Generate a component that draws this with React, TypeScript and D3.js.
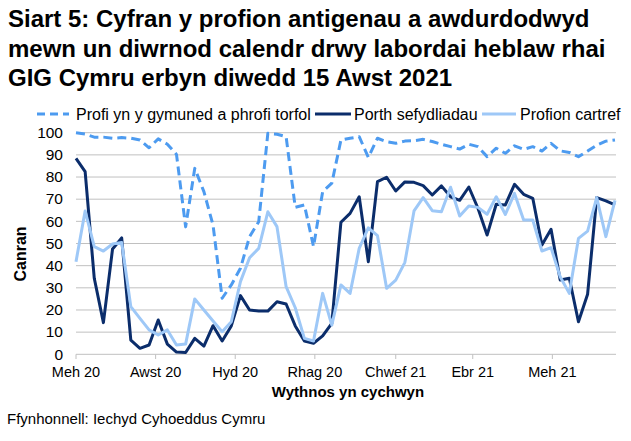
import React from "react";
import * as d3 from "d3";

const weekStart = new Date(2020, 5, 1);
const weeks = 60;

const communityTesting = [100, 99.4, 98, 98, 97.5, 97.8, 97.5, 96.7, 93.2, 97.2, 94.8, 90.2, 57.5, 83.9, 73.4, 58.3, 25.3, 31.3, 38.8, 53.1, 59.8, 99.7, 99.3, 98.2, 66.3, 67.4, 48.6, 73.4, 77.2, 96.7, 97.5, 98.2, 88.9, 97.5, 95.9, 95.2, 96.2, 96.4, 97, 96, 94.8, 93.7, 92.6, 94.8, 93.7, 89.2, 93, 90.7, 94.1, 92.5, 93.7, 91.7, 95.2, 91.8, 91.1, 89.2, 91.7, 94.4, 96.2, 96.7];
const institutionPortal = [88.4, 82.4, 34.3, 14.3, 47.5, 52.5, 6.4, 2.7, 4.2, 15.5, 4.6, 1, 0.8, 7.2, 3.7, 12.9, 6, 12.8, 26.5, 20, 19.5, 19.5, 23.7, 22.7, 12.8, 6, 5, 8.3, 14, 59.6, 63.6, 71.1, 41.8, 77.9, 79.9, 73.7, 77.8, 77.6, 76.1, 71.9, 76, 71.1, 69.5, 75.5, 65.9, 53.8, 67.7, 67.4, 76.7, 72.2, 70.4, 49.3, 56.4, 33.5, 34.3, 14.7, 27.1, 70.7, 69.2, 67.4];
const homeTests = [41.8, 64.7, 48.6, 46.6, 49.8, 50.5, 21.5, 16.2, 11, 8.7, 11, 4.2, 4.6, 25, 20, 15, 10.2, 14.7, 32.8, 43.6, 47.8, 64.3, 57.6, 30.5, 21, 7.2, 6, 27.5, 13.2, 31.3, 27.5, 47.8, 57.1, 53.5, 29.8, 33.5, 41.5, 64.7, 70.7, 64.8, 64.3, 75.4, 62.4, 66.9, 66.3, 63.2, 71.1, 63.1, 72.6, 60.6, 60.6, 46.6, 48.1, 35, 27.5, 52.3, 55.6, 70.7, 53.1, 69.5];

const yTicks = [0, 10, 20, 30, 40, 50, 60, 70, 80, 90, 100];
const xTickDates = [
  new Date(2020, 5, 1),
  new Date(2020, 7, 1),
  new Date(2020, 9, 1),
  new Date(2020, 11, 1),
  new Date(2021, 1, 1),
  new Date(2021, 3, 1),
  new Date(2021, 5, 1),
];
const xTickLabels = ["Meh 20", "Awst 20", "Hyd 20", "Rhag 20", "Chwef 21", "Ebr 21", "Meh 21"];

const titleLines = [
  "Siart 5: Cyfran y profion antigenau a awdurdodwyd",
  "mewn un diwrnod calendr drwy labordai heblaw rhai",
  "GIG Cymru erbyn diwedd 15 Awst 2021",
];
const legendLabels = ["Profi yn y gymuned a phrofi torfol", "Porth sefydliadau", "Profion cartref"];

const COL_DASH = "#4d9bf0";
const COL_DARK = "#0b2d6b";
const COL_LIGHT = "#9ec8f7";

export default function App() {
  const W = 631;
  const H = 441;
  const dates = d3.range(weeks).map((i) => d3.timeWeek.offset(weekStart, i));
  const x = d3.scaleTime().domain([dates[0], dates[weeks - 1]]).range([76, 615]);
  const y = d3.scaleLinear().domain([0, 100]).range([354.3, 132.7]);
  const line = d3
    .line<number>()
    .x((_, i) => x(dates[i]))
    .y((d) => y(d))
    .curve(d3.curveLinear);

  const font = "'Liberation Sans', Arial, sans-serif";
  const series = [
    { data: communityTesting, color: COL_DASH, dash: "9,5" },
    { data: institutionPortal, color: COL_DARK, dash: undefined },
    { data: homeTests, color: COL_LIGHT, dash: undefined },
  ];

  const legendY = 114;
  const legendItems = [
    { x0: 37, x1: 69, tx: 76, color: COL_DASH, dash: "8,5", label: legendLabels[0] },
    { x0: 315, x1: 351, tx: 354, color: COL_DARK, dash: undefined, label: legendLabels[1] },
    { x0: 482, x1: 516, tx: 520, color: COL_LIGHT, dash: undefined, label: legendLabels[2] },
  ];
  const titleBaselines = [27, 56.5, 86];

  return (
    <svg width={W} height={H} style={{ position: "absolute", left: 0, top: 0, background: "#fff" }} fontFamily={font}>
      <rect width={W} height={H} fill="#fff" />
      {titleLines.map((t, i) => (
        <text key={i} x={8} y={titleBaselines[i]} fontSize={24} fontWeight="bold" fill="#000">
          {t}
        </text>
      ))}
      {legendItems.map((l, i) => (
        <g key={i}>
          <line x1={l.x0} x2={l.x1} y1={legendY} y2={legendY} stroke={l.color} strokeWidth={3} strokeDasharray={l.dash} />
          <text x={l.tx} y={legendY + 5.7} fontSize={16} fill="#000">
            {l.label}
          </text>
        </g>
      ))}
      {yTicks.map((t) => (
        <g key={t}>
          <line x1={76} x2={616} y1={y(t)} y2={y(t)} stroke="#c0c0c0" strokeWidth={1} />
          <text x={63} y={y(t) + 5.3} textAnchor="end" fontSize={15.5} fill="#000">
            {t}
          </text>
        </g>
      ))}
      {xTickDates.map((d, i) => (
        <g key={i}>
          <line x1={x(d)} x2={x(d)} y1={354.3} y2={359} stroke="#c0c0c0" />
          <text x={x(d)} y={377} textAnchor="middle" fontSize={14.5} fill="#000">
            {xTickLabels[i]}
          </text>
        </g>
      ))}
      {series.map((s, i) => (
        <path key={i} d={line(s.data) || ""} fill="none" stroke={s.color} strokeWidth={3} strokeDasharray={s.dash} strokeLinejoin="round" />
      ))}
      <text x={26} y={254} transform="rotate(-90 26 254)" textAnchor="middle" fontSize={16} fontWeight="bold" fill="#000">
        Canran
      </text>
      <text x={348} y={397} textAnchor="middle" fontSize={15} fontWeight="bold" fill="#000">
        Wythnos yn cychwyn
      </text>
      <text x={7} y={424} fontSize={15} fill="#000">
        Ffynhonnell: Iechyd Cyhoeddus Cymru
      </text>
    </svg>
  );
}
